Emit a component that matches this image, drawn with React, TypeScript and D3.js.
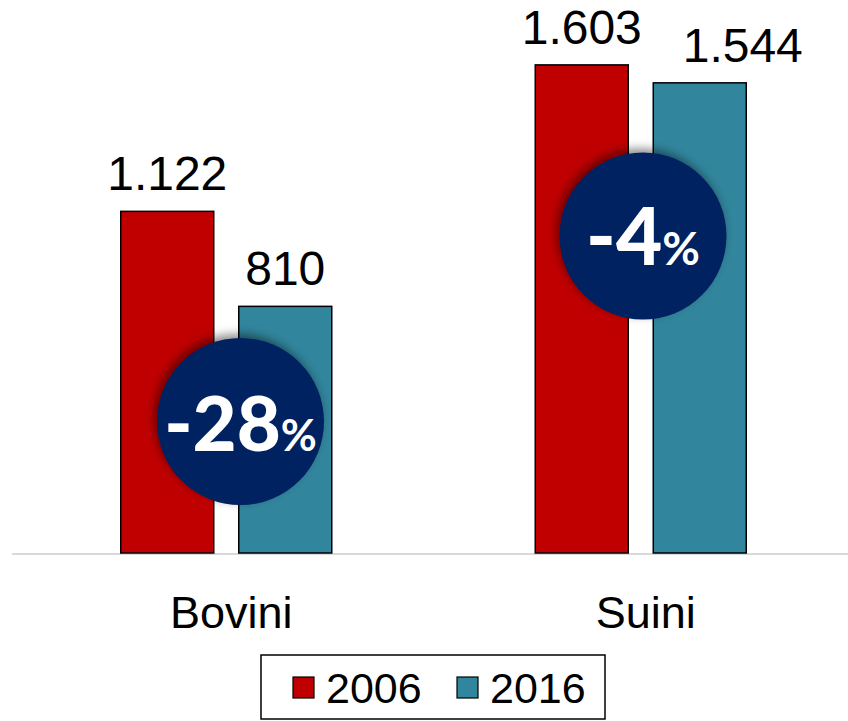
import React from "react";
import * as d3 from "d3";

const categories = ["Bovini", "Suini"];
const years = ["2006", "2016"];
const values2006 = [1122, 1603];
const values2016 = [810, 1544];
const valueLabels2006 = ["1.122", "1.603"];
const valueLabels2016 = ["810", "1.544"];
const changeLabels = ["-28", "-4"];
const colors = { "2006": "#C00000", "2016": "#31859C" };

const W = 848;
const H = 721;

export default function App() {
  const baseY = 553;
  const y = d3.scaleLinear().domain([0, 1800]).range([baseY, baseY - 1800 * 0.3045]);
  const x0 = d3.scaleBand<string>().domain(categories).range([19, 848]).padding(0);
  const x1 = d3.scaleBand<string>().domain(years).range([-105.5, 105.5]).paddingInner(25 / 118).paddingOuter(0);
  const series: Record<string, number[]> = { "2006": values2006, "2016": values2016 };
  const labels: Record<string, string[]> = { "2006": valueLabels2006, "2016": valueLabels2016 };
  const labelShift: Record<string, number[]> = { "2006": [0, 0], "2016": [0, 43] };
  const circles = [
    { cx: 240.5, cy: 421.5, r: 83.5, big: 76, small: 44 },
    { cx: 643, cy: 236, r: 83.5, big: 80, small: 46 },
  ];
  const font = "'Liberation Sans', Arial, sans-serif";

  return (
    <svg width={W} height={H} style={{ position: "absolute", left: 0, top: 0 }} xmlns="http://www.w3.org/2000/svg">
      <defs>
        <filter id="sh" x="-30%" y="-30%" width="160%" height="160%">
          <feDropShadow dx={-3} dy={-4} stdDeviation={5} floodColor="#000" floodOpacity={0.45} />
        </filter>
      </defs>
      <rect width={W} height={H} fill="#fff" />
      <line x1={12} x2={848} y1={baseY + 1} y2={baseY + 1} stroke="#d9d9d9" strokeWidth={2} />
      {categories.map((c, i) => {
        const cx = (x0(c) as number) + x0.bandwidth() / 2;
        return (
          <g key={c}>
            {years.map((yr) => {
              const v = series[yr][i];
              const bx = cx + (x1(yr) as number);
              return (
                <g key={yr}>
                  <rect x={bx} y={y(v)} width={x1.bandwidth()} height={baseY - y(v)} fill={(colors as any)[yr]} stroke="#000" strokeWidth={1.5} />
                  <text x={bx + x1.bandwidth() / 2 + labelShift[yr][i]} y={y(v) - 21} textAnchor="middle" fontFamily={font} fontSize={48} fill="#000">
                    {labels[yr][i]}
                  </text>
                </g>
              );
            })}
            <text x={cx + 5} y={628} textAnchor="middle" fontFamily={font} fontSize={45} fill="#000">
              {c}
            </text>
          </g>
        );
      })}
      {circles.map((ci, i) => (
        <g key={i}>
          <circle cx={ci.cx} cy={ci.cy} r={ci.r} fill="#002060" filter="url(#sh)" />
          <text x={ci.cx} y={ci.cy + 29} textAnchor="middle" fontFamily="Lato, 'Open Sans', sans-serif" fontWeight={900} fill="#fff">
            <tspan fontSize={ci.big}>{changeLabels[i]}</tspan>
            <tspan fontSize={ci.small} fontWeight={700}>%</tspan>
          </text>
        </g>
      ))}
      <rect x={261} y={655} width={344} height={64} fill="#fff" stroke="#000" strokeWidth={1.5} />
      {years.map((yr, i) => {
        const lx = [293, 457][i];
        return (
          <g key={yr}>
            <rect x={lx} y={677} width={21} height={21} fill={(colors as any)[yr]} stroke="#000" strokeWidth={1.2} />
            <text x={lx + 33} y={703} fontFamily={font} fontSize={43} fill="#000">
              {yr}
            </text>
          </g>
        );
      })}
    </svg>
  );
}
